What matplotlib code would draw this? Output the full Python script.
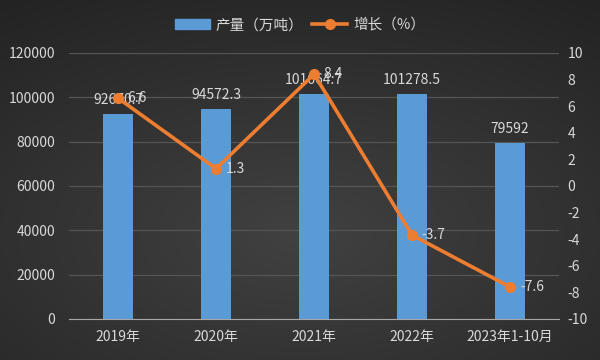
import numpy as np
import matplotlib.pyplot as plt
from matplotlib.lines import Line2D
from matplotlib.patches import Patch

plt.rcParams['font.family'] = ['Noto Sans CJK SC', 'DejaVu Sans']
plt.rcParams['axes.unicode_minus'] = False

categories = ['2019年', '2020年', '2021年', '2022年', '2023年1-10月']
output = [92670.7, 94572.3, 101664.7, 101278.5, 79592]
output_labels = ['92670.7', '94572.3', '101664.7', '101278.5', '79592']
growth = [6.6, 1.3, 8.4, -3.7, -7.6]
growth_labels = ['6.6', '1.3', '8.4', '-3.7', '-7.6']

txt = '#d9d9d9'
bar_c = '#5b9bd5'
line_c = '#ed7d31'

fig = plt.figure(figsize=(6, 3.6), dpi=100)

# dark radial background
bg = fig.add_axes([0, 0, 1, 1], zorder=-10)
yy, xx = np.mgrid[-1:1:200j, -1:1:300j]
rr = np.sqrt((xx * 0.9) ** 2 + ((yy - 0.3) * 1.0) ** 2)
bg.imshow(-rr, cmap=plt.matplotlib.colors.LinearSegmentedColormap.from_list(
    'bg', ['#232323', '#414141']), aspect='auto', extent=[0, 1, 0, 1])
bg.axis('off')

ax = fig.add_axes([0.115, 0.114, 0.817, 0.739])
ax.patch.set_alpha(0)
x = np.arange(len(categories))

ax.bar(x, output, width=0.31, color=bar_c, zorder=2)
for i, v in enumerate(output):
    ax.annotate(output_labels[i], (x[i], v), xytext=(0, 5), textcoords='offset points',
                ha='center', va='bottom', color=txt, fontsize=10, zorder=5)

ax.set_ylim(0, 120000)
ax.set_yticks(np.arange(0, 120001, 20000))
ax.set_xlim(-0.5, len(categories) - 0.5)
ax.set_xticks(x)
ax.set_xticklabels(categories)
ax.grid(axis='y', color='#555555', linewidth=0.9, zorder=0)
for s in ['top', 'right', 'left']:
    ax.spines[s].set_visible(False)
ax.spines['bottom'].set_color('#a6a6a6')
ax.tick_params(axis='both', length=0, colors=txt, labelsize=10)
ax.tick_params(axis='y', pad=10)
ax.tick_params(axis='x', pad=8)

ax2 = ax.twinx()
ax2.plot(x, growth, color=line_c, linewidth=2.6, marker='o', markersize=7, zorder=4)
for i, v in enumerate(growth):
    ax2.annotate(growth_labels[i], (x[i], v), xytext=(7, 0), textcoords='offset points',
                 ha='left', va='center', color=txt, fontsize=10, zorder=5)
ax2.set_ylim(-10, 10)
ax2.set_yticks(np.arange(-10, 11, 2))
for s in ax2.spines.values():
    s.set_visible(False)
ax2.tick_params(axis='y', length=0, colors=txt, labelsize=10, pad=6)

handles = [Patch(facecolor=bar_c, edgecolor=bar_c),
           Line2D([0], [0], color=line_c, linewidth=2.6, marker='o', markersize=7)]
fig.legend(handles, ['产量（万吨）', '增长（%）'], loc='center', bbox_to_anchor=(0.5, 0.93),
           ncol=2, frameon=False, fontsize=10.5, labelcolor=txt, handlelength=2.4,
           handletextpad=0.4, columnspacing=0.6)

fig.savefig('out.png', dpi=100)
